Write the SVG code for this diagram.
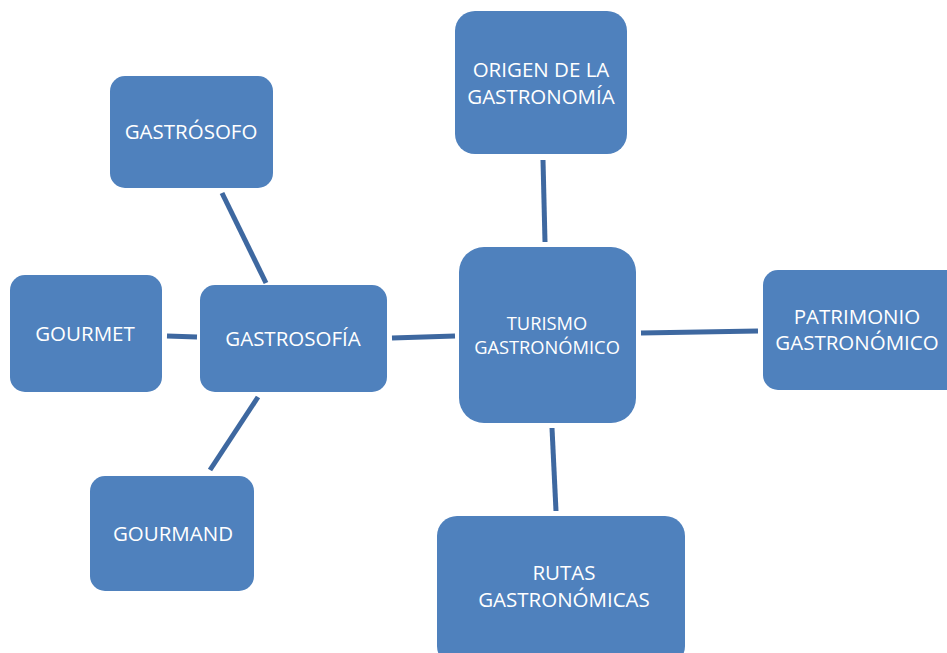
<svg xmlns="http://www.w3.org/2000/svg" width="947" height="653" viewBox="0 0 947 653">
<style>
.box{fill:#4F81BD;}
.t{font-family:"Open Sans","Liberation Sans",sans-serif;font-size:20.5px;fill:#FFFFFF;text-anchor:middle;}
.s{font-size:18.3px;}
.c{stroke:#3E68A0;stroke-width:5;fill:none;}
</style>
<rect width="947" height="653" fill="#FFFFFF"/>
<g id="connectors">
<line class="c" x1="222" y1="193" x2="266" y2="283"/>
<line class="c" x1="167" y1="336" x2="197" y2="337"/>
<line class="c" x1="258" y1="397" x2="210" y2="470"/>
<line class="c" x1="392" y1="338" x2="455" y2="336"/>
<line class="c" x1="543" y1="160" x2="545" y2="242"/>
<line class="c" x1="641" y1="333" x2="758" y2="331"/>
<line class="c" x1="552" y1="428" x2="556" y2="511"/>
</g>
<g id="gastrosofo"><rect class="box" x="110" y="76" width="163" height="112" rx="15"/><text class="t" x="191" y="139">GASTRÓSOFO</text></g>
<g id="origen"><rect class="box" x="455" y="11" width="172" height="143" rx="20"/><text class="t" x="541" y="77">ORIGEN DE LA</text><text class="t" x="541" y="104">GASTRONOMÍA</text></g>
<g id="gourmet"><rect class="box" x="10" y="275" width="152" height="117" rx="15"/><text class="t" x="85" y="341">GOURMET</text></g>
<g id="gastrosofia"><rect class="box" x="200" y="285" width="187" height="107" rx="15"/><text class="t" x="293" y="346">GASTROSOFÍA</text></g>
<g id="turismo"><rect class="box" x="459" y="247" width="177" height="176" rx="25"/><text class="t s" x="547" y="330">TURISMO</text><text class="t s" x="547" y="354">GASTRONÓMICO</text></g>
<g id="patrimonio"><rect class="box" x="763" y="270" width="200" height="120" rx="15"/><text class="t" x="857" y="324">PATRIMONIO</text><text class="t" x="857" y="350">GASTRONÓMICO</text></g>
<g id="gourmand"><rect class="box" x="90" y="476" width="164" height="115" rx="15"/><text class="t" x="173" y="541">GOURMAND</text></g>
<g id="rutas"><rect class="box" x="437" y="516" width="248" height="150" rx="20"/><text class="t" x="564" y="580">RUTAS</text><text class="t" x="564" y="607">GASTRONÓMICAS</text></g>
</svg>
